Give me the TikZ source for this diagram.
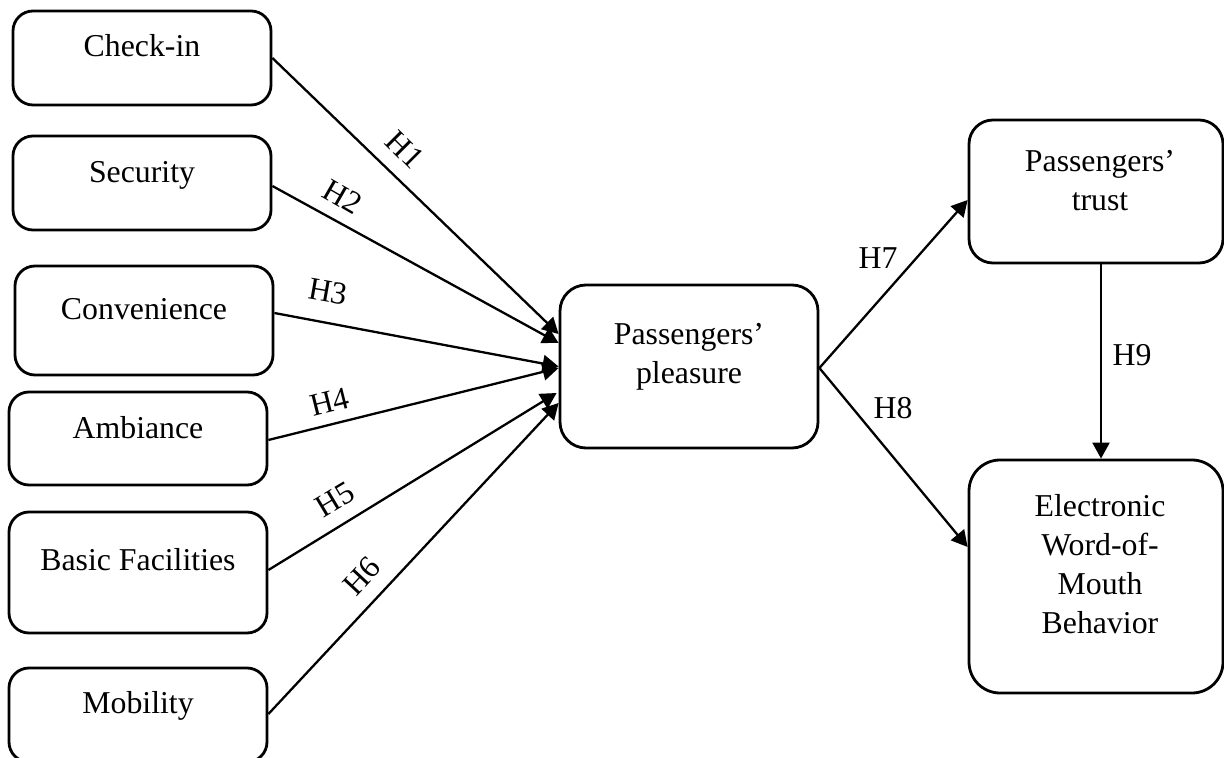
\documentclass[tikz,border=0pt]{standalone}
\usepackage{fontspec}
\setmainfont{Liberation Serif}
\usetikzlibrary{arrows.meta}
\newcommand{\boxtxt}[4]{\parbox[c][#2][t]{#1}{\centering\vspace*{#3}\rule{0pt}{14pt}#4}}
\begin{document}
\begin{tikzpicture}[x=0.5pt,y=-0.5pt,
  cbox/.style={draw, line width=1.4pt, inner sep=0pt, font=\fontsize{15.9}{19.5}\selectfont},
  conn/.style={line width=1.15pt, -{Triangle[length=8pt,width=8.5pt]}},
  hlab/.style={inner sep=0pt, font=\fontsize{15.9}{19.5}\selectfont}]
\useasboundingbox (0,0) rectangle (1224,758);
\clip (0,0) rectangle (1224,758);
% left boxes
\node[cbox, rounded corners=10pt] (chk) at (142,58) {\boxtxt{129pt}{47pt}{9pt}{Check-in}};
\node[cbox, rounded corners=10pt] (sec) at (142,183) {\boxtxt{129pt}{47pt}{9.5pt}{Security}};
\node[cbox, rounded corners=10pt] (conv) at (144,320.5) {\boxtxt{129pt}{54.5pt}{13pt}{Convenience}};
\node[cbox, rounded corners=10pt] (amb) at (138,438.5) {\boxtxt{129pt}{46.5pt}{9pt}{Ambiance}};
\node[cbox, rounded corners=10pt] (bas) at (138,572.5) {\boxtxt{129pt}{60.5pt}{15pt}{Basic Facilities}};
\node[cbox, rounded corners=10pt] (mob) at (138,715) {\boxtxt{129pt}{47pt}{8.5pt}{Mobility}};
% middle and right boxes
\node[cbox, rounded corners=13pt] (pls) at (689,366.5) {\boxtxt{129pt}{81.5pt}{16pt}{Passengers’\\pleasure}};
\node[cbox, rounded corners=12pt] (trs) at (1096,191.5) {\boxtxt{127pt}{71.5pt}{12pt}{\hspace*{4pt}Passengers’\\\hspace*{4pt}trust}};
\node[cbox, rounded corners=15.5pt] (ewm) at (1096,576.5) {\boxtxt{127pt}{116.5pt}{14pt}{\hspace*{4pt}Electronic\\\hspace*{4pt}Word-of-\\\hspace*{4pt}Mouth\\\hspace*{4pt}Behavior}};
% connectors
\draw[conn] (chk.east) -- ([yshift=16.25pt]pls.west);
\draw[conn] ([yshift=-1.5pt]sec.east) -- ([yshift=11.75pt]pls.west);
\draw[conn] ([yshift=3.75pt]conv.east) -- ([yshift=0pt]pls.west);
\draw[conn] ([yshift=-0.75pt]amb.east) -- ([yshift=-0.75pt]pls.west);
\draw[conn] ([yshift=1.25pt]bas.east) -- ([yshift=-13.25pt,xshift=-1pt]pls.west);
\draw[conn] ([yshift=0.5pt]mob.east) -- ([yshift=-18.25pt]pls.west);
\draw[conn] ([yshift=-0.75pt]pls.east) -- ([yshift=-4.25pt]trs.west);
\draw[conn] ([yshift=-0.75pt]pls.east) -- ([yshift=14.75pt]ewm.west);
\draw[conn] ([xshift=2.5pt]trs.south) -- ([xshift=2.5pt]ewm.north);
% labels
\node[hlab, rotate=-45] (h1) at (405,150) {H1};
\node[hlab, rotate=-30] (h2) at (343,197) {H2};
\node[hlab, rotate=-10] (h3) at (328,292) {H3};
\node[hlab, rotate=14] (h4) at (330,402) {H4};
\node[hlab, rotate=31] (h5) at (335,500) {H5};
\node[hlab, rotate=47] (h6) at (362,576) {H6};
\node[hlab] (h7) at (878,258) {H7};
\node[hlab] (h8) at (893,408) {H8};
\node[hlab] (h9) at (1132,355) {H9};
\end{tikzpicture}
\end{document}
